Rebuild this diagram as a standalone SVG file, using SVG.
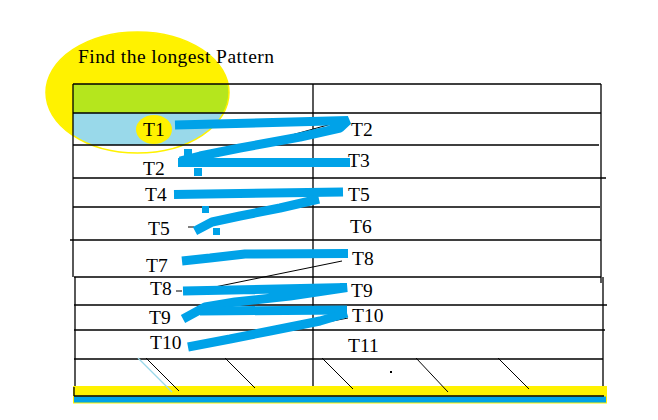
<svg xmlns="http://www.w3.org/2000/svg" width="658" height="420" viewBox="0 0 658 420">
<style>
.ln{stroke:#000;stroke-width:1.3;fill:none}
.th{stroke:#000;stroke-width:1;fill:none}
.bl{stroke:#00a2e8;stroke-width:9;fill:none;stroke-linejoin:bevel}
.lb{font-family:"Liberation Serif","Times New Roman",serif;font-size:19.5px;fill:#000}
.sq{fill:#00a2e8}
</style>
<defs>
<clipPath id="ec"><ellipse cx="137.5" cy="92.5" rx="91.5" ry="60.5"/></clipPath>
</defs>
<rect width="658" height="420" fill="#fff"/>
<g id="highlight">
<ellipse cx="137.5" cy="92.5" rx="91.5" ry="60.5" fill="#fff200"/>
<g clip-path="url(#ec)">
<rect x="73" y="84" width="200" height="29" fill="#b5e61d"/>
<rect x="73" y="113" width="200" height="32" fill="#99d9ea"/>
<rect x="73" y="145" width="200" height="20" fill="#fff"/>
</g>
<ellipse cx="137.5" cy="92.5" rx="91.5" ry="60.5" fill="none" stroke="#fff200" stroke-width="1.5"/>
<ellipse cx="154" cy="129.5" rx="18" ry="14.5" fill="#fff200"/>
</g>
<text class="lb" x="78" y="63" textLength="196" lengthAdjust="spacing">Find the longest Pattern</text>
<g id="table">
<path class="ln" d="M73,84H601M73,113H601M73,145H599M73,178H606M73,207H600M70,240H601M74,277H601M74,305H607M74,330H605M74,359H603"/>
<path class="ln" d="M73,84V277M75,277V396M601,84V283M603,277V400M313,84V387"/>
</g>
<g id="bar">
<rect x="73.5" y="386.5" width="533" height="9.5" fill="#fff200" stroke="#fff200" stroke-width="1"/>
<rect x="73.5" y="396" width="533" height="7" fill="#00a2e8" stroke="#fff200" stroke-width="1"/>
<path class="ln" d="M74,396H604M74,387V396"/>
</g>
<g id="ticks">
<path d="M138,358L172,392" stroke="#99d9ea" stroke-width="1.2" fill="none"/>
<path class="th" d="M146,358L179,391M225,358L255,388M322,358L353,389M416,358L448,392M498,358L529,389"/>
<rect x="390" y="371" width="2" height="2" fill="#000"/>
</g>
<g id="connectors">
<path class="th" d="M252,146L335,123M205,289L342,261M176,291H182M327,322L348,318M188,227H194"/>
<path class="bl" d="M175,125L348,120.5L340,128L300,137L240,148L200,156L180,161"/>
<path class="bl" d="M178,162.5L350,162.5"/>
<path class="bl" d="M174,194.5L343,192"/>
<path class="bl" d="M319,199L280,208L240,216L212,222L195,231"/>
<path class="bl" d="M182,261L210,258L245,254L348,253.5"/>
<path class="bl" d="M183,291L347,287.5L290,296L235,302L205,307L183,319"/>
<path class="bl" d="M200,311L347,310"/>
<path class="bl" d="M347,313L320,321L270,331L230,339L188,347"/>
<rect class="sq" x="184" y="149" width="8" height="8"/>
<rect class="sq" x="194" y="168" width="8" height="8"/>
<rect class="sq" x="202" y="206" width="7" height="7"/>
<rect class="sq" x="213" y="228" width="7" height="7"/>
</g>
<g id="labels">
<text class="lb" x="143" y="136">T1</text>
<text class="lb" x="351" y="136">T2</text>
<text class="lb" x="143" y="175">T2</text>
<text class="lb" x="348" y="167">T3</text>
<text class="lb" x="145" y="201">T4</text>
<text class="lb" x="348" y="201">T5</text>
<text class="lb" x="148" y="235">T5</text>
<text class="lb" x="350" y="233">T6</text>
<text class="lb" x="146" y="272">T7</text>
<text class="lb" x="352" y="265">T8</text>
<text class="lb" x="150" y="295">T8</text>
<text class="lb" x="351" y="297">T9</text>
<text class="lb" x="149" y="324">T9</text>
<text class="lb" x="352" y="322">T10</text>
<text class="lb" x="150" y="349">T10</text>
<text class="lb" x="348" y="352">T11</text>
</g>
</svg>
